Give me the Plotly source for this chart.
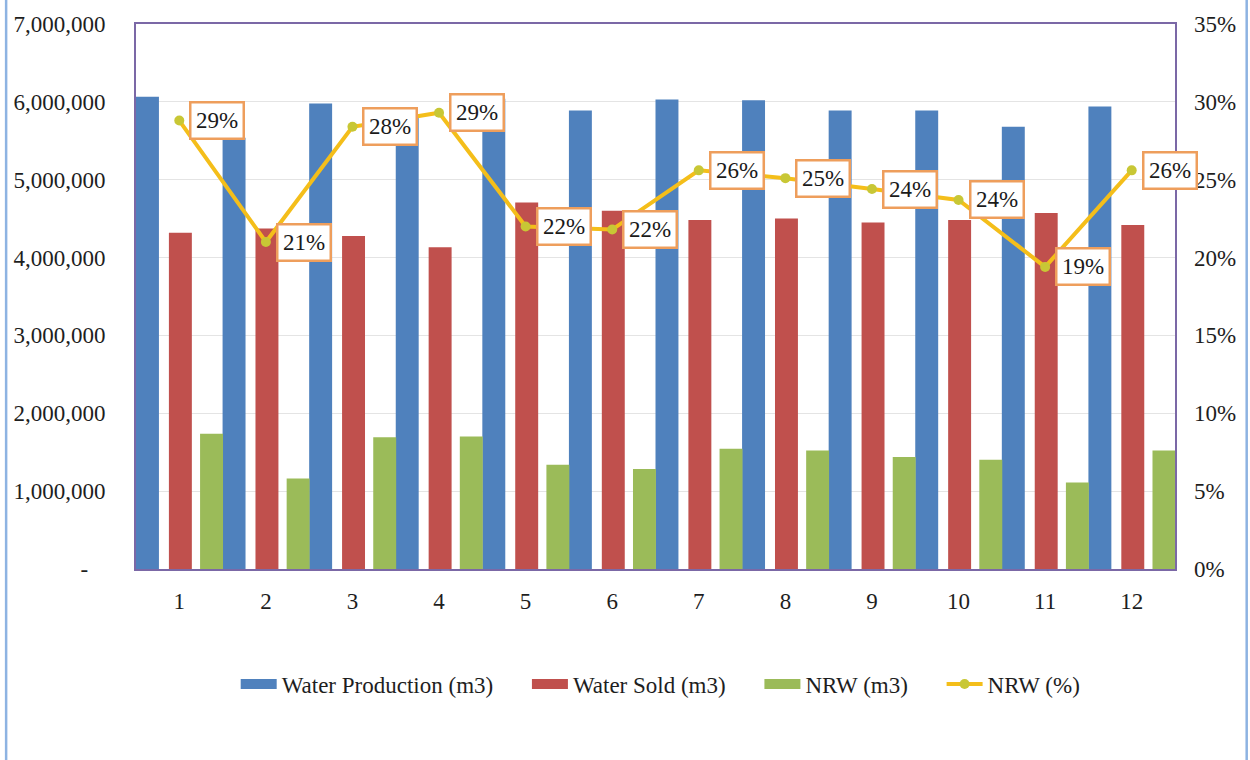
import plotly.graph_objects as go

# Monthly water balance
months = list(range(1, 13))
water_production = [6064000, 5540000, 5978000, 5833000, 6040000, 5889000,
                    6030000, 6020000, 5889000, 5890000, 5681000, 5940000]
water_sold = [4319000, 4374000, 4277000, 4131000, 4706000, 4600000,
              4481000, 4502000, 4451000, 4481000, 4574000, 4417000]
nrw_m3 = [1736000, 1162000, 1693000, 1702000, 1340000, 1285000,
          1545000, 1523000, 1438000, 1404000, 1110000, 1523000]
nrw_pct = [28.8, 21.0, 28.4, 29.3, 22.0, 21.8, 25.6, 25.1, 24.4, 23.7, 19.4, 25.6]

left_tickvals = [0, 1000000, 2000000, 3000000, 4000000, 5000000, 6000000, 7000000]
left_ticktext = ["-\u00a0\u00a0\u00a0", "1,000,000", "2,000,000", "3,000,000",
                 "4,000,000", "5,000,000", "6,000,000", "7,000,000"]
right_tickvals = [0, 5, 10, 15, 20, 25, 30, 35]
right_ticktext = ["0%", "5%", "10%", "15%", "20%", "25%", "30%", "35%"]

FONT = "Liberation Serif, Times New Roman, serif"
FS = 23
TXT = "#1e1e1e"
BORDER = "#7B68A6"
GAP = "\u00a0" * 5  # extra room between legend entries
series = [
    ("Water Production (m3)", water_production, "#4F81BD", -0.5),
    ("Water Sold (m3)", water_sold, "#C0504D", -0.12),
    ("NRW (m3)", nrw_m3, "#9BBB59", 0.24),
]

fig = go.Figure()

bar_width = 0.265
for name, vals, color, off in series:
    fig.add_trace(go.Bar(x=months, y=vals, name=name, showlegend=False,
                         marker=dict(color=color, line=dict(width=0)),
                         width=bar_width, offset=off))

fig.add_trace(go.Scatter(x=months, y=nrw_pct, name="NRW (%)", yaxis="y2",
                         mode="lines+markers", showlegend=False,
                         line=dict(color="#F4BE1A", width=4),
                         marker=dict(color="#C8C735", size=10, line=dict(width=0))))

# Legend entries with wide rectangular swatches
for name, vals, color, off in series:
    fig.add_trace(go.Scatter(x=[None], y=[None], name=name + GAP, mode="lines",
                             line=dict(color=color, width=10)))
fig.add_trace(go.Scatter(x=[None], y=[None], name="NRW (%)", mode="lines+markers",
                         line=dict(color="#F4BE1A", width=4),
                         marker=dict(color="#C8C735", size=10, line=dict(width=0))))

# Percentage labels in boxes to the right of each point
for m, p in zip(months, nrw_pct):
    fig.add_annotation(x=m, y=p, yref="y2", xref="x",
                       text=f"{round(p)}%", showarrow=False,
                       xanchor="left", yanchor="middle", xshift=10,
                       font=dict(family=FONT, size=FS, color="#1a1a1a"),
                       bgcolor="white", bordercolor="#EE9E5C",
                       borderwidth=2.5, borderpad=4.5)

# Outer chart frame on the left and right
for xp in (-0.125, 1.069):
    fig.add_shape(type="line", xref="paper", yref="paper",
                  x0=xp, x1=xp, y0=-0.36, y1=1.05,
                  line=dict(color="#8DB3E2", width=2.5))

fig.update_layout(
    width=1250, height=760,
    margin=dict(l=136, r=75, t=21, b=191),
    paper_bgcolor="white", plot_bgcolor="white",
    barmode="overlay", showlegend=True,
    font=dict(family=FONT, size=FS, color=TXT),
    legend=dict(orientation="h", x=0.505, xanchor="center", y=-0.211, yanchor="middle",
                font=dict(family=FONT, size=FS, color=TXT),
                itemwidth=36, traceorder="normal", bgcolor="rgba(0,0,0,0)"),
    xaxis=dict(range=[0.5, 12.5], tickmode="array", tickvals=months,
               ticktext=[str(m) for m in months],
               showgrid=False, zeroline=False,
               showline=True, mirror=True, linecolor=BORDER, linewidth=2,
               ticks="", ticklabelstandoff=10,
               tickfont=dict(family=FONT, size=FS, color=TXT)),
    yaxis=dict(range=[0, 7000000], tickmode="array", tickvals=left_tickvals,
               ticktext=left_ticktext, showgrid=True, gridcolor="#E4E4E4", gridwidth=1,
               zeroline=False, showline=True, mirror=True, linecolor=BORDER, linewidth=2,
               ticks="", ticklabelstandoff=24,
               tickfont=dict(family=FONT, size=FS, color=TXT)),
    yaxis2=dict(range=[0, 35], overlaying="y", side="right", tickmode="array",
                tickvals=right_tickvals, ticktext=right_ticktext, showgrid=False,
                zeroline=False, showline=False, ticks="", ticklabelstandoff=18,
                tickfont=dict(family=FONT, size=FS, color=TXT)),
)

fig.write_html("out.html")
